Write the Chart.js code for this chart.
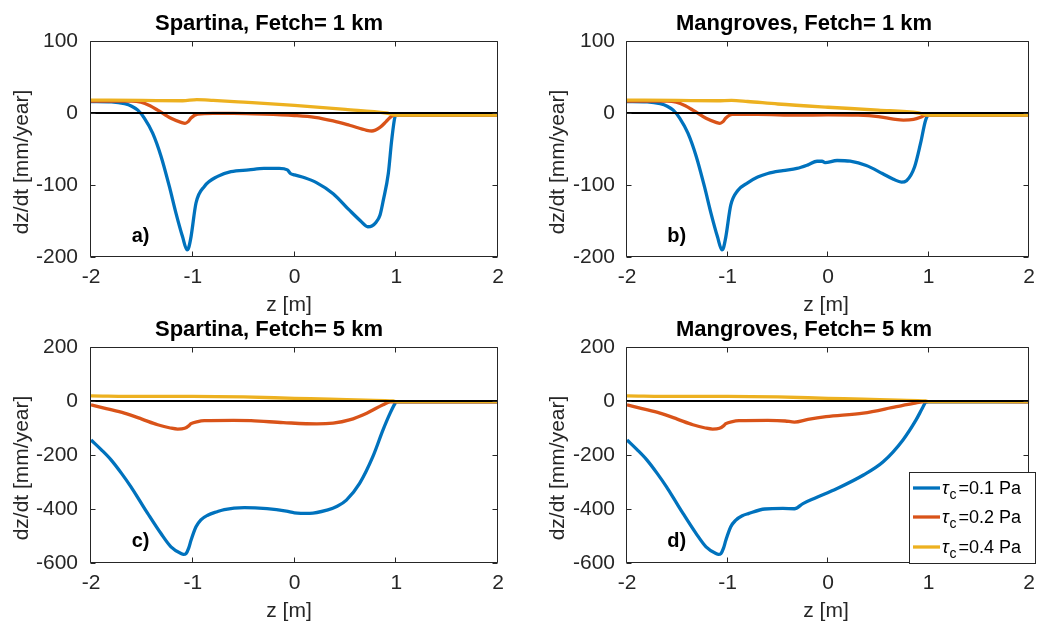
<!DOCTYPE html>
<html>
<head>
<meta charset="utf-8">
<script src="https://cdn.jsdelivr.net/npm/chart.js@4.4.1/dist/chart.umd.min.js"></script>
<style>
  body { margin: 0; background: #fff; width: 1043px; height: 627px; position: relative; overflow: hidden; }
  canvas { position: absolute; }
</style>
</head>
<body>
<canvas id="pa" width="521" height="321" style="left:0;top:0"></canvas>
<canvas id="pb" width="522" height="321" style="left:521px;top:0"></canvas>
<canvas id="pc" width="521" height="321" style="left:0;top:306px"></canvas>
<canvas id="pd" width="522" height="321" style="left:521px;top:306px"></canvas>
<script>
const FONT = '"Liberation Sans", Arial, Helvetica, sans-serif';
const BLUE = '#0072BD', ORANGE = '#D95319', YELLOW = '#EDB120';

const zTicks = [-2, -1, 0, 1, 2];
const yTicksFetch1 = [-200, -100, 0, 100];
const yTicksFetch5 = [-600, -400, -200, 0, 200];
const legendLabels = ['0.1', '0.2', '0.4'];

// a) Spartina, 1 km
const aBlueZ = [-2, -1.8, -1.67, -1.6, -1.54, -1.476, -1.394, -1.312, -1.23, -1.165, -1.1, -1.056, -1.04, -1.017, -0.968, -0.886, -0.755, -0.624, -0.45, -0.3, -0.15, -0.07, -0.04, 0, 0.1, 0.22, 0.38, 0.54, 0.65, 0.72, 0.76, 0.8, 0.84, 0.873, 0.922, 0.955, 0.988, 1.0, 2.0];
const aBlueV = [16, 15.5, 13, 9.5, 4, -7, -28, -60, -102, -139, -172, -190, -187, -172, -125, -102, -88, -81.5, -79, -77, -77, -79, -84, -86, -90, -97, -112, -135, -150, -158, -157, -152, -142, -121, -84, -38, -5, -3, -3];
const aOrangeZ = [-2, -1.6, -1.51, -1.42, -1.345, -1.214, -1.115, -1.076, -1.045, -1.017, -0.951, -0.8, -0.6, -0.3, 0, 0.2, 0.38, 0.54, 0.71, 0.76, 0.84, 0.9, 0.95, 0.98, 2];
const aOrangeV = [16.5, 16.5, 15, 10, 4, -7.4, -13, -14.4, -12, -7, -1.4, -0.5, -0.5, -1.5, -3.5, -6, -11, -17, -24, -25, -20, -12, -5, -3, -3];
const aYellowZ = [-2, -1.5, -1.1, -0.96, -0.8, -0.5, 0, 0.5, 0.9, 1, 2];
const aYellowV = [18, 17.5, 17, 18.5, 17.5, 15, 10.5, 5, 0, -3, -3];

// b) Mangroves, 1 km
const bBlueZ = [-2, -1.8, -1.67, -1.6, -1.54, -1.476, -1.394, -1.312, -1.23, -1.165, -1.1, -1.056, -1.04, -1.017, -0.968, -0.9, -0.8, -0.7, -0.6, -0.45, -0.31, -0.2, -0.11, -0.06, -0.03, 0.09, 0.22, 0.38, 0.54, 0.65, 0.73, 0.78, 0.86, 0.92, 0.97, 1, 2];
const bBlueV = [16, 15.5, 13, 9.5, 4, -7, -28, -60, -102, -139, -172, -190, -187, -172, -128, -108, -97, -89, -84, -80, -77, -72, -67, -67, -69, -66, -67, -73, -84, -92, -96, -94, -75, -42, -10, -3, -3];
const bOrangeZ = [-2, -1.6, -1.51, -1.42, -1.345, -1.214, -1.115, -1.076, -1.045, -1.017, -0.951, -0.7, -0.3, 0, 0.3, 0.5, 0.65, 0.75, 0.85, 0.92, 0.97, 2];
const bOrangeV = [16.5, 16.5, 15, 10, 4, -7.4, -13, -14.4, -12, -7, -2, -2, -3, -2.5, -3, -5, -8.5, -10, -9, -6, -3, -3];
const bYellowZ = [-2, -1.5, -1.1, -0.96, -0.8, -0.5, 0, 0.5, 0.9, 1, 2];
const bYellowV = [18, 17.5, 17, 17.5, 16, 12.5, 8, 4, 0, -3, -3];

// c) Spartina, 5 km
const cBlueZ = [-2, -1.9, -1.803, -1.7, -1.607, -1.52, -1.443, -1.312, -1.214, -1.115, -1.09, -1.066, -1.04, -1.017, -0.968, -0.92, -0.853, -0.76, -0.69, -0.493, -0.27, -0.08, 0, 0.15, 0.32, 0.42, 0.51, 0.64, 0.77, 0.87, 0.94, 0.99, 1, 2];
const cBlueV = [-144, -180, -218, -268, -318, -370, -416, -491, -540, -565, -568, -565, -545, -516, -466, -440, -423, -410, -402, -395, -399, -408, -414, -416, -404, -390, -367, -305, -206, -107, -45, -8, -3, -3];
const cOrangeZ = [-2, -1.85, -1.672, -1.5, -1.345, -1.22, -1.148, -1.08, -1.04, -1.017, -0.95, -0.886, -0.6, -0.427, -0.11, 0.22, 0.38, 0.54, 0.71, 0.87, 0.94, 2];
const cOrangeV = [-14, -28, -45, -67, -88, -100, -104, -101, -92, -84, -76, -73, -72, -73, -80, -85, -82, -70, -45, -14, -3, -3];
const cYellowZ = [-2, -1.5, -1, -0.5, 0, 0.35, 0.7, 0.97, 1, 2];
const cYellowV = [19, 17, 17, 15, 10, 7, 3, 0, -2, -2];

// d) Mangroves, 5 km
const dBlueZ = [-2, -1.9, -1.803, -1.7, -1.607, -1.52, -1.443, -1.312, -1.214, -1.115, -1.09, -1.066, -1.04, -1.017, -0.968, -0.92, -0.853, -0.793, -0.629, -0.45, -0.335, -0.25, -0.138, 0.09, 0.352, 0.548, 0.745, 0.875, 0.94, 0.973, 1, 2];
const dBlueV = [-144, -180, -218, -268, -318, -370, -416, -491, -540, -565, -568, -565, -545, -516, -466, -442, -425, -417, -400, -398, -399, -380, -361, -324, -274, -225, -144, -70, -25, -4, -3, -3];
const dOrangeZ = [-2, -1.85, -1.672, -1.5, -1.345, -1.22, -1.148, -1.08, -1.04, -1.017, -0.95, -0.886, -0.6, -0.427, -0.335, -0.2, -0.02, 0.35, 0.68, 0.85, 0.97, 2];
const dOrangeV = [-14, -28, -45, -67, -88, -100, -104, -101, -92, -84, -76, -73, -72, -74, -78, -68, -58, -45, -21, -9, -2, -3];
const dYellowZ = [-2, -1.5, -1, -0.5, 0, 0.35, 0.7, 0.97, 1, 2];
const dYellowV = [19, 17, 17, 15, 10, 7, 3, 0, -2, -2];

const pts = (z, v) => z.map((x, i) => ({ x: x, y: v[i] }));

// MATLAB-like box, inward ticks, titles and labels
const deco = {
  id: 'deco',
  afterDraw(chart, args, o) {
    const { ctx, chartArea: a, scales: { x, y } } = chart;
    ctx.save();
    ctx.strokeStyle = '#262626';
    ctx.lineWidth = 1;
    ctx.beginPath();
    const L = Math.round(a.left) - 0.5, R = Math.round(a.right) - 0.5;
    const T = Math.round(a.top) + 0.5, B = Math.round(a.bottom) - 0.5;
    ctx.rect(L, T, R - L, B - T);
    x.ticks.forEach(t => {
      const px = Math.round(x.getPixelForValue(t.value)) - 0.5;
      ctx.moveTo(px, B); ctx.lineTo(px, B - 5);
      ctx.moveTo(px, T); ctx.lineTo(px, T + 5);
    });
    y.ticks.forEach(t => {
      const py = Math.round(y.getPixelForValue(t.value)) + 0.5;
      ctx.moveTo(L, py); ctx.lineTo(L + 5, py);
      ctx.moveTo(R, py); ctx.lineTo(R - 5, py);
    });
    ctx.stroke();

    ctx.fillStyle = '#000';
    ctx.font = 'bold 22px ' + FONT;
    ctx.textAlign = 'center';
    ctx.textBaseline = 'alphabetic';
    ctx.fillText(o.title, o.titleX, 30);

    ctx.fillStyle = '#262626';
    ctx.font = '21px ' + FONT;
    ctx.fillText('z [m]', o.xlabX, 311);
    ctx.save();
    ctx.translate(o.ylabX, 162);
    ctx.rotate(-Math.PI / 2);
    ctx.textBaseline = 'middle';
    ctx.fillText('dz/dt [mm/year]', 0, 0);
    ctx.restore();

    ctx.fillStyle = '#000';
    ctx.font = 'bold 20px ' + FONT;
    ctx.textAlign = 'left';
    ctx.textBaseline = 'middle';
    ctx.fillText(o.tag, x.getPixelForValue(-1.6), y.getPixelForValue(o.tagV));

    if (o.legend) {
      const bx = 388, by = 166, bw = 126, bh = 91;
      ctx.fillStyle = '#fff';
      ctx.fillRect(bx, by, bw, bh);
      ctx.strokeStyle = '#262626';
      ctx.lineWidth = 1;
      ctx.strokeRect(bx + 0.5, by + 0.5, bw, bh);
      const rows = [182, 211, 241];
      const cols = [BLUE, ORANGE, YELLOW];
      legendLabels.forEach((lab, i) => {
        ctx.strokeStyle = cols[i];
        ctx.lineWidth = 3.3;
        ctx.beginPath();
        ctx.moveTo(392, rows[i]); ctx.lineTo(419, rows[i]);
        ctx.stroke();
        ctx.fillStyle = '#000';
        ctx.textBaseline = 'alphabetic';
        ctx.font = 'italic 18px ' + FONT;
        ctx.fillText('\u03c4', 421, rows[i] + 6);
        ctx.font = '14px ' + FONT;
        ctx.fillText('c', 428.5, rows[i] + 11);
        ctx.font = '18px ' + FONT;
        ctx.fillText('=' + lab + ' Pa', 437.5, rows[i] + 6);
      });
    }
    ctx.restore();
  }
};

function makePanel(id, p) {
  const series = [
    { z: p.blue[0], v: p.blue[1], color: BLUE, order: 3 },
    { z: p.orange[0], v: p.orange[1], color: ORANGE, order: 2 },
    { z: p.yellow[0], v: p.yellow[1], color: YELLOW, order: 1 }
  ];
  const datasets = series.map(s => ({
    data: pts(s.z, s.v),
    borderColor: s.color,
    borderWidth: 3.3,
    pointRadius: 0,
    fill: false,
    cubicInterpolationMode: 'monotone',
    order: s.order
  }));
  datasets.push({
    data: pts([-2, 2], [0, 0]),
    borderColor: '#000',
    borderWidth: 2,
    pointRadius: 0,
    fill: false,
    order: 0
  });
  const tickFont = { family: FONT, size: 21 };
  return new Chart(document.getElementById(id), {
    type: 'line',
    data: { datasets },
    options: {
      responsive: false,
      animation: false,
      events: [],
      layout: { padding: { left: 0, top: 41, right: p.padRight, bottom: 0 } },
      plugins: {
        legend: { display: false },
        tooltip: { enabled: false },
        deco: { title: p.title, titleX: p.titleX, xlabX: p.xlabX, ylabX: p.ylabX, tag: p.tag, tagV: p.tagV, legend: !!p.legend }
      },
      scales: {
        x: {
          type: 'linear', min: -2, max: 2,
          afterBuildTicks: s => { s.ticks = zTicks.map(v => ({ value: v })); },
          afterFit: s => { s.height = 64; },
          grid: { display: false, drawTicks: false },
          border: { display: false },
          ticks: { padding: 8, color: '#262626', font: tickFont, maxRotation: 0, autoSkip: false, callback: v => String(v) }
        },
        y: {
          type: 'linear', min: p.yTicks[0], max: p.yTicks[p.yTicks.length - 1],
          afterBuildTicks: s => { s.ticks = p.yTicks.map(v => ({ value: v })); },
          afterFit: s => { s.width = p.yWidth; },
          grid: { display: false, drawTicks: false },
          border: { display: false },
          ticks: { padding: p.yPad, color: '#262626', font: tickFont, autoSkip: false, callback: v => String(v) }
        }
      }
    },
    plugins: [deco]
  });
}

makePanel('pa', { blue: [aBlueZ, aBlueV], orange: [aOrangeZ, aOrangeV], yellow: [aYellowZ, aYellowV],
  yTicks: yTicksFetch1, yWidth: 91, yPad: 13, padRight: 23,
  title: 'Spartina, Fetch= 1 km', titleX: 269, xlabX: 289, ylabX: 22, tag: 'a)', tagV: -172 });
makePanel('pb', { blue: [bBlueZ, bBlueV], orange: [bOrangeZ, bOrangeV], yellow: [bYellowZ, bYellowV],
  yTicks: yTicksFetch1, yWidth: 106, yPad: 12, padRight: 8,
  title: 'Mangroves, Fetch= 1 km', titleX: 283, xlabX: 305, ylabX: 37, tag: 'b)', tagV: -172 });
makePanel('pc', { blue: [cBlueZ, cBlueV], orange: [cOrangeZ, cOrangeV], yellow: [cYellowZ, cYellowV],
  yTicks: yTicksFetch5, yWidth: 91, yPad: 13, padRight: 23,
  title: 'Spartina, Fetch= 5 km', titleX: 269, xlabX: 289, ylabX: 22, tag: 'c)', tagV: -522 });
makePanel('pd', { blue: [dBlueZ, dBlueV], orange: [dOrangeZ, dOrangeV], yellow: [dYellowZ, dYellowV],
  yTicks: yTicksFetch5, yWidth: 106, yPad: 12, padRight: 8,
  title: 'Mangroves, Fetch= 5 km', titleX: 283, xlabX: 305, ylabX: 37, tag: 'd)', tagV: -522, legend: true });
</script>
</body>
</html>
